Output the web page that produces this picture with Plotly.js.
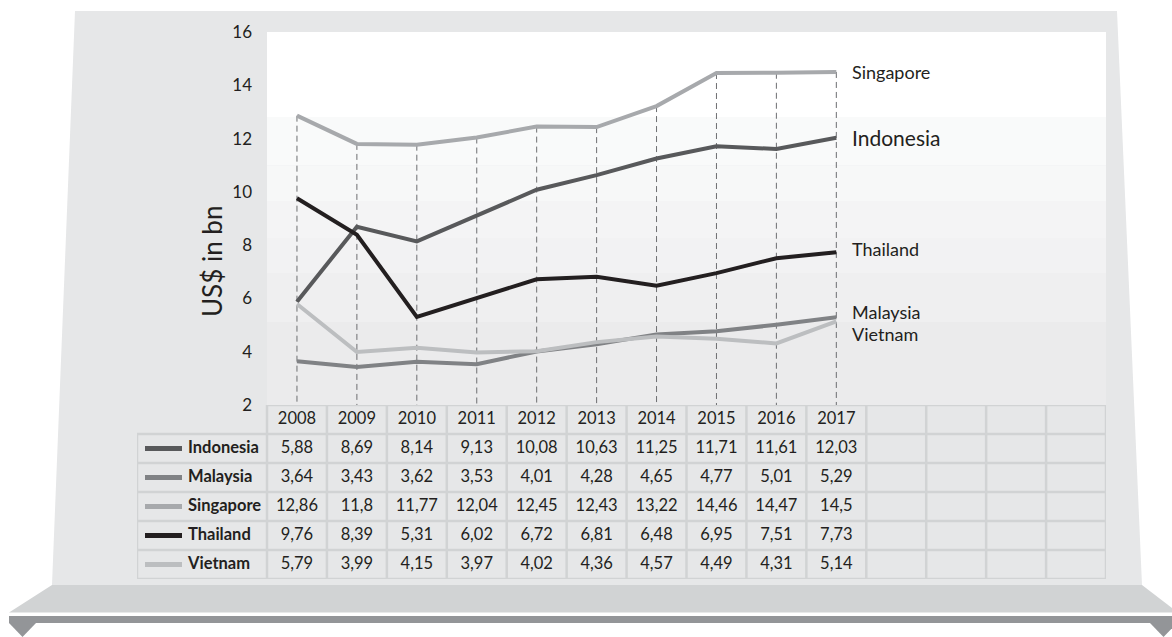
<!DOCTYPE html>
<html>
<head>
<meta charset="utf-8">
<script src="https://cdn.plot.ly/plotly-3.0.1.min.js"></script>
<style>
  html, body { margin: 0; padding: 0; background: #ffffff; }
  #chart { width: 1172px; height: 637px; }
</style>
</head>
<body>
<div id="chart"></div>
<script>
// ---------------- data ----------------
const years = [2008, 2009, 2010, 2011, 2012, 2013, 2014, 2015, 2016, 2017];
const seriesNames = ['Indonesia', 'Malaysia', 'Singapore', 'Thailand', 'Vietnam'];
const indonesia = [5.88, 8.69, 8.14, 9.13, 10.08, 10.63, 11.25, 11.71, 11.61, 12.03];
const malaysia  = [3.64, 3.43, 3.62, 3.53, 4.01, 4.28, 4.65, 4.77, 5.01, 5.29];
const singapore = [12.86, 11.8, 11.77, 12.04, 12.45, 12.43, 13.22, 14.46, 14.47, 14.5];
const thailand  = [9.76, 8.39, 5.31, 6.02, 6.72, 6.81, 6.48, 6.95, 7.51, 7.73];
const vietnam   = [5.79, 3.99, 4.15, 3.97, 4.02, 4.36, 4.57, 4.49, 4.31, 5.14];
const yTickVals = [2, 4, 6, 8, 10, 12, 14, 16];
const yTitle = 'US$ in bn';
const emptyColumns = 4;

// ---------------- styles ----------------
const W = 1172, H = 637;
const FONT = 'Lato, "Open Sans", sans-serif';
const TXT = '#231f20';
const values = [indonesia, malaysia, singapore, thailand, vietnam];
const colors = ['#58595b', '#808285', '#a7a9ac', '#231f20', '#bcbec0'];
const drawOrder = [0, 1, 2, 4, 3];
const labelStyle = {
  Indonesia: {size: 21, yshift: 0},
  Malaysia:  {size: 18, yshift: 5},
  Singapore: {size: 18, yshift: 0},
  Thailand:  {size: 18, yshift: 3},
  Vietnam:   {size: 18, yshift: -13}
};
const px = x => x / W;
const py = y => 1 - y / H;

const idx = years.map((_, i) => i);
const nCols = years.length + emptyColumns;
const xMax = nCols - 0.5;
const plotLeft = 267, plotRight = 1106, tableLeft = 137;
const unitPx = (plotRight - plotLeft) / (xMax + 0.5);
const x2Min = -0.5 - (plotLeft - tableLeft) / unitPx;

const traces = [];

// dashed verticals from highest point down to axis bottom
const dx = [], dy = [];
idx.forEach(i => {
  const top = Math.max(...values.map(v => v[i]));
  dx.push(i, i, null);
  dy.push(top, yTickVals[0], null);
});
traces.push({
  x: dx, y: dy, xaxis: 'x', yaxis: 'y', mode: 'lines', type: 'scatter',
  line: {color: '#6d6e71', width: 1, dash: '6px,4px'}, hoverinfo: 'skip', cliponaxis: false
});

// series lines
drawOrder.forEach(s => {
  traces.push({
    x: idx, y: values[s], xaxis: 'x', yaxis: 'y', mode: 'lines', type: 'scatter',
    name: seriesNames[s], line: {color: colors[s], width: 4}, cliponaxis: false
  });
});

// ---------------- table (second subplot) ----------------
const nRows = seriesNames.length + 1;
const gx = [], gy = [];
for (let r = 0; r <= nRows; r++) {
  gx.push(r === 0 ? -0.5 : x2Min, xMax, null);
  gy.push(r, r, null);
}
gx.push(x2Min, x2Min, null); gy.push(1, nRows, null);
for (let c = 0; c <= nCols; c++) {
  gx.push(c - 0.5, c - 0.5, null);
  gy.push(0, nRows, null);
}
traces.push({
  x: gx, y: gy, xaxis: 'x2', yaxis: 'y2', mode: 'lines', type: 'scatter',
  line: {color: '#d1d3d4', width: 2.5}, hoverinfo: 'skip', cliponaxis: false
});

// header years
traces.push({
  x: idx, y: idx.map(() => 0.5), text: years.map(String),
  xaxis: 'x2', yaxis: 'y2', mode: 'text', type: 'scatter', cliponaxis: false,
  textfont: {family: FONT, size: 16.5, color: TXT}, textposition: 'middle center'
});

// values
const vx = [], vy = [], vt = [];
values.forEach((arr, s) => {
  arr.forEach((v, i) => {
    vx.push(i); vy.push(s + 1.5); vt.push(String(v).replace('.', ','));
  });
});
traces.push({
  x: vx, y: vy, text: vt, xaxis: 'x2', yaxis: 'y2', mode: 'text', type: 'scatter',
  cliponaxis: false, textfont: {family: FONT, size: 16.5, color: TXT}, textposition: 'middle center'
});

// legend swatches + names
const swL = x2Min + (145 - tableLeft) / unitPx;
const swR = x2Min + (182 - tableLeft) / unitPx;
const nameX = x2Min + (188 - tableLeft) / unitPx;
seriesNames.forEach((n, s) => {
  traces.push({
    x: [swL, swR], y: [s + 1.5, s + 1.5], xaxis: 'x2', yaxis: 'y2',
    mode: 'lines', type: 'scatter', line: {color: colors[s], width: 5}, cliponaxis: false
  });
});
traces.push({
  x: seriesNames.map(() => nameX), y: seriesNames.map((_, s) => s + 1.5),
  text: seriesNames, xaxis: 'x2', yaxis: 'y2', mode: 'text', type: 'scatter', cliponaxis: false,
  textfont: {family: FONT, size: 16.5, color: TXT, weight: 'bold'}, textposition: 'middle right'
});

// ---------------- decoration shapes ----------------
const poly = pts => 'M ' + pts.map(p => px(p[0]) + ',' + py(p[1])).join(' L ') + ' Z';
const shapes = [
  {type: 'path', xref: 'paper', yref: 'paper', layer: 'below', line: {width: 0}, fillcolor: '#e6e7e8',
   path: poly([[75, 11], [1117, 11], [1142, 585], [52, 585]])},
  {type: 'path', xref: 'paper', yref: 'paper', layer: 'below', line: {width: 0}, fillcolor: '#d1d3d4',
   path: poly([[52, 585], [1142, 585], [1172, 608], [1172, 612.5], [9, 612.5]])},
  {type: 'path', xref: 'paper', yref: 'paper', layer: 'below', line: {width: 0}, fillcolor: '#939598',
   path: poly([[9, 616], [1172, 616], [1172, 623], [9, 623]])},
  {type: 'path', xref: 'paper', yref: 'paper', layer: 'below', line: {width: 0}, fillcolor: '#939598',
   path: poly([[9, 623], [36, 623], [22.5, 637]])},
  {type: 'path', xref: 'paper', yref: 'paper', layer: 'below', line: {width: 0}, fillcolor: '#939598',
   path: poly([[1150, 623], [1177, 623], [1163.5, 637]])}
];
const bands = [
  [0.772, 1.0, '#ffffff'],
  [0.643, 0.772, '#f9fafa'],
  [0.547, 0.643, '#f7f8f8'],
  [0.448, 0.547, '#f4f4f5'],
  [0.354, 0.448, '#f2f2f3'],
  [0.2225, 0.354, '#efeff0'],
  [0.0, 0.2225, '#ebebec']
];
bands.forEach(b => shapes.push({
  type: 'rect', xref: 'x domain', yref: 'y domain', layer: 'below',
  x0: 0, x1: 1, y0: b[0], y1: b[1], line: {width: 0}, fillcolor: b[2]
}));

// end labels
const annotations = seriesNames.map((n, s) => ({
  x: years.length - 1, y: values[s][years.length - 1], xref: 'x', yref: 'y',
  text: n, showarrow: false, xanchor: 'left', yanchor: 'middle',
  xshift: 14, yshift: labelStyle[n].yshift,
  font: {family: FONT, size: labelStyle[n].size, color: TXT}
}));
// y-axis title
annotations.push({
  x: px(212), y: py(262), xref: 'paper', yref: 'paper', text: yTitle, textangle: -90,
  showarrow: false, xanchor: 'center', yanchor: 'middle',
  font: {family: FONT, size: 26, color: TXT}
});

const layout = {
  width: W, height: H,
  margin: {l: 0, r: 0, t: 0, b: 0, pad: 0},
  paper_bgcolor: '#ffffff', plot_bgcolor: 'rgba(0,0,0,0)',
  showlegend: false,
  font: {family: FONT, color: TXT},
  xaxis: {domain: [px(plotLeft), px(plotRight)], range: [-0.5, xMax], visible: false, fixedrange: true},
  yaxis: {domain: [py(405), py(32)], range: [yTickVals[0], yTickVals[yTickVals.length - 1]],
    tickvals: yTickVals, ticks: '', showgrid: false, zeroline: false, showline: false,
    ticklabelstandoff: 14, automargin: false,
    tickfont: {family: FONT, size: 17, color: TXT}},
  xaxis2: {domain: [px(tableLeft), px(plotRight)], range: [x2Min, xMax], anchor: 'y2', visible: false, fixedrange: true},
  yaxis2: {domain: [py(579), py(405)], range: [nRows, 0], anchor: 'x2', visible: false, fixedrange: true},
  shapes: shapes,
  annotations: annotations
};

Plotly.newPlot('chart', traces, layout, {staticPlot: true, displayModeBar: false});
</script>
</body>
</html>
